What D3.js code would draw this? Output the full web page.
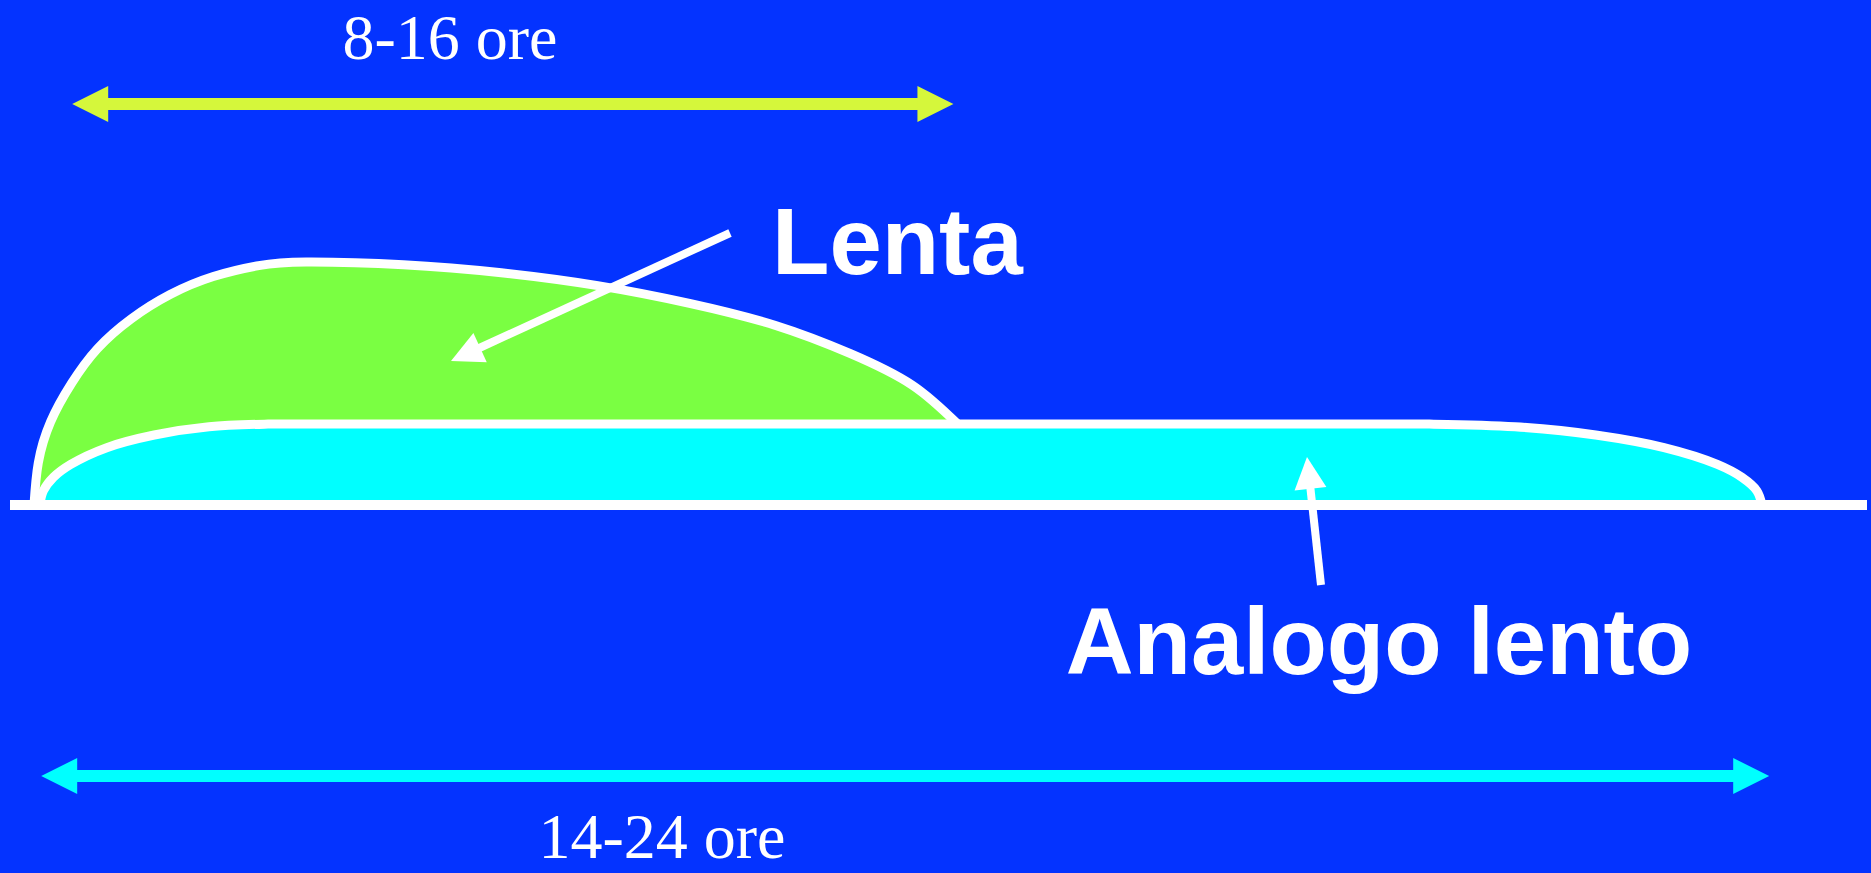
<!DOCTYPE html>
<html>
<head>
<meta charset="utf-8">
<script src="https://cdn.jsdelivr.net/npm/d3@7"></script>
<style>
  body { margin: 0; background: #0433ff; }
  svg { display: block; }
</style>
</head>
<body>
<div id="chart"></div>
<script>
// Profiles: x in hours, y in relative level (peak = 100)
var lentaHours = [0, 0.06, 0.23, 0.52, 0.88, 1.35, 1.89, 2.49, 3.12, 3.78,
  5.13, 6.49, 7.83, 9.12, 10.3, 11.34, 12.2, 12.83];
var lentaLevel = [0, 17.4, 34.2, 50.0, 64.3, 76.6, 86.6, 94.0, 98.5, 100,
  98.9, 95.6, 90.3, 82.9, 73.9, 62.3, 49.3, 33.3];

var analogoHours = [0.08, 0.13, 0.27, 0.51, 1.01, 1.67, 2.43, 3.25, 3.8, 18.8,
  19.38, 20.57, 21.69, 22.64, 23.38, 23.72, 23.93, 24.0];
var analogoLevel = [0, 5.8, 11.4, 16.7, 23.6, 28.8, 32.2, 33.3, 33.3, 33.3,
  33.3, 32.2, 28.8, 23.6, 16.7, 11.4, 5.8, 0];

// duration arrows (hours on the same axis) and their labels
var spanLabels = ["8-16 ore", "14-24 ore"];
var spanStart = [0.53, 0.10];
var spanEnd = [12.77, 24.1];
var seriesNames = ["Lenta", "Analogo lento"];

var svgWidth = 1871;
var svgHeight = 873;

var svg = d3.select("#chart")
  .append("svg")
  .attr("width", svgWidth)
  .attr("height", svgHeight);

svg.append("rect")
  .attr("width", svgWidth)
  .attr("height", svgHeight)
  .attr("fill", "#0433ff");

var xScale = d3.scaleLinear().domain([0, 24]).range([34, 1762]);
var yScale = d3.scaleLinear().domain([0, 100]).range([505, 262]);

var lentaPts = lentaHours.map((h, i) => [h, lentaLevel[i]]);
var analogoPts = analogoHours.map((h, i) => [h, analogoLevel[i]]);

var smoothLine = d3.line()
  .x(d => xScale(d[0]))
  .y(d => yScale(d[1]))
  .curve(d3.curveNatural);

var outline = d3.line()
  .x(d => xScale(d[0]))
  .y(d => yScale(d[1]))
  .curve(d3.curveCatmullRom.alpha(0.5));

// green area (fill only, closed down to the baseline)
svg.append("path")
  .attr("d", smoothLine(lentaPts) + "L" + xScale(12.83) + "," + yScale(0) + "Z")
  .attr("fill", "#7aff42");

svg.append("path")
  .attr("d", smoothLine(lentaPts))
  .attr("fill", "none")
  .attr("stroke", "white")
  .attr("stroke-width", 9);

// cyan area
svg.append("path")
  .attr("d", outline(analogoPts) + "Z")
  .attr("fill", "#00ffff");

svg.append("path")
  .attr("d", outline(analogoPts))
  .attr("fill", "none")
  .attr("stroke", "white")
  .attr("stroke-width", 9);

// baseline
svg.append("line")
  .attr("x1", 10)
  .attr("x2", 1867)
  .attr("y1", yScale(0))
  .attr("y2", yScale(0))
  .attr("stroke", "white")
  .attr("stroke-width", 10);

// double headed arrows
function doubleArrow(x1, x2, y, color) {
  var head = 36, half = 18, th = 12;
  var g = svg.append("g");
  g.append("rect")
    .attr("x", x1 + head - 1)
    .attr("y", y - th / 2)
    .attr("width", x2 - x1 - 2 * head + 2)
    .attr("height", th)
    .attr("fill", color);
  g.append("path")
    .attr("d", `M${x1},${y}L${x1 + head},${y - half}L${x1 + head},${y + half}Z`)
    .attr("fill", color);
  g.append("path")
    .attr("d", `M${x2},${y}L${x2 - head},${y - half}L${x2 - head},${y + half}Z`)
    .attr("fill", color);
}

doubleArrow(xScale(spanStart[0]), xScale(spanEnd[0]), 104, "#d5f73b");
doubleArrow(xScale(spanStart[1]), xScale(spanEnd[1]), 776, "#00ffff");

svg.append("text")
  .attr("x", 450)
  .attr("y", 59)
  .attr("text-anchor", "middle")
  .attr("font-family", "Liberation Serif, Times New Roman, serif")
  .attr("font-size", 64)
  .attr("fill", "white")
  .text(spanLabels[0]);

svg.append("text")
  .attr("x", 662)
  .attr("y", 858)
  .attr("text-anchor", "middle")
  .attr("font-family", "Liberation Serif, Times New Roman, serif")
  .attr("font-size", 64)
  .attr("fill", "white")
  .text(spanLabels[1]);

// callout arrows
function callout(x1, y1, x2, y2) {
  var ang = Math.atan2(y2 - y1, x2 - x1);
  var len = 32, half = 16;
  var bx = x2 - len * Math.cos(ang), by = y2 - len * Math.sin(ang);
  var px = -Math.sin(ang) * half, py = Math.cos(ang) * half;
  svg.append("line")
    .attr("x1", x1).attr("y1", y1)
    .attr("x2", bx + 2 * Math.cos(ang)).attr("y2", by + 2 * Math.sin(ang))
    .attr("stroke", "white")
    .attr("stroke-width", 8);
  svg.append("path")
    .attr("d", `M${x2},${y2}L${bx + px},${by + py}L${bx - px},${by - py}Z`)
    .attr("fill", "white");
}

callout(730, 233, 451, 361);
callout(1321, 585, 1307, 457);

svg.append("text")
  .attr("x", 772)
  .attr("y", 274)
  .attr("font-family", "Liberation Sans, Arial, sans-serif")
  .attr("font-weight", "bold")
  .attr("font-size", 94)
  .attr("fill", "white")
  .text(seriesNames[0]);

svg.append("text")
  .attr("x", 1379)
  .attr("y", 674)
  .attr("text-anchor", "middle")
  .attr("font-family", "Liberation Sans, Arial, sans-serif")
  .attr("font-weight", "bold")
  .attr("font-size", 94)
  .attr("fill", "white")
  .text(seriesNames[1]);
</script>
</body>
</html>
